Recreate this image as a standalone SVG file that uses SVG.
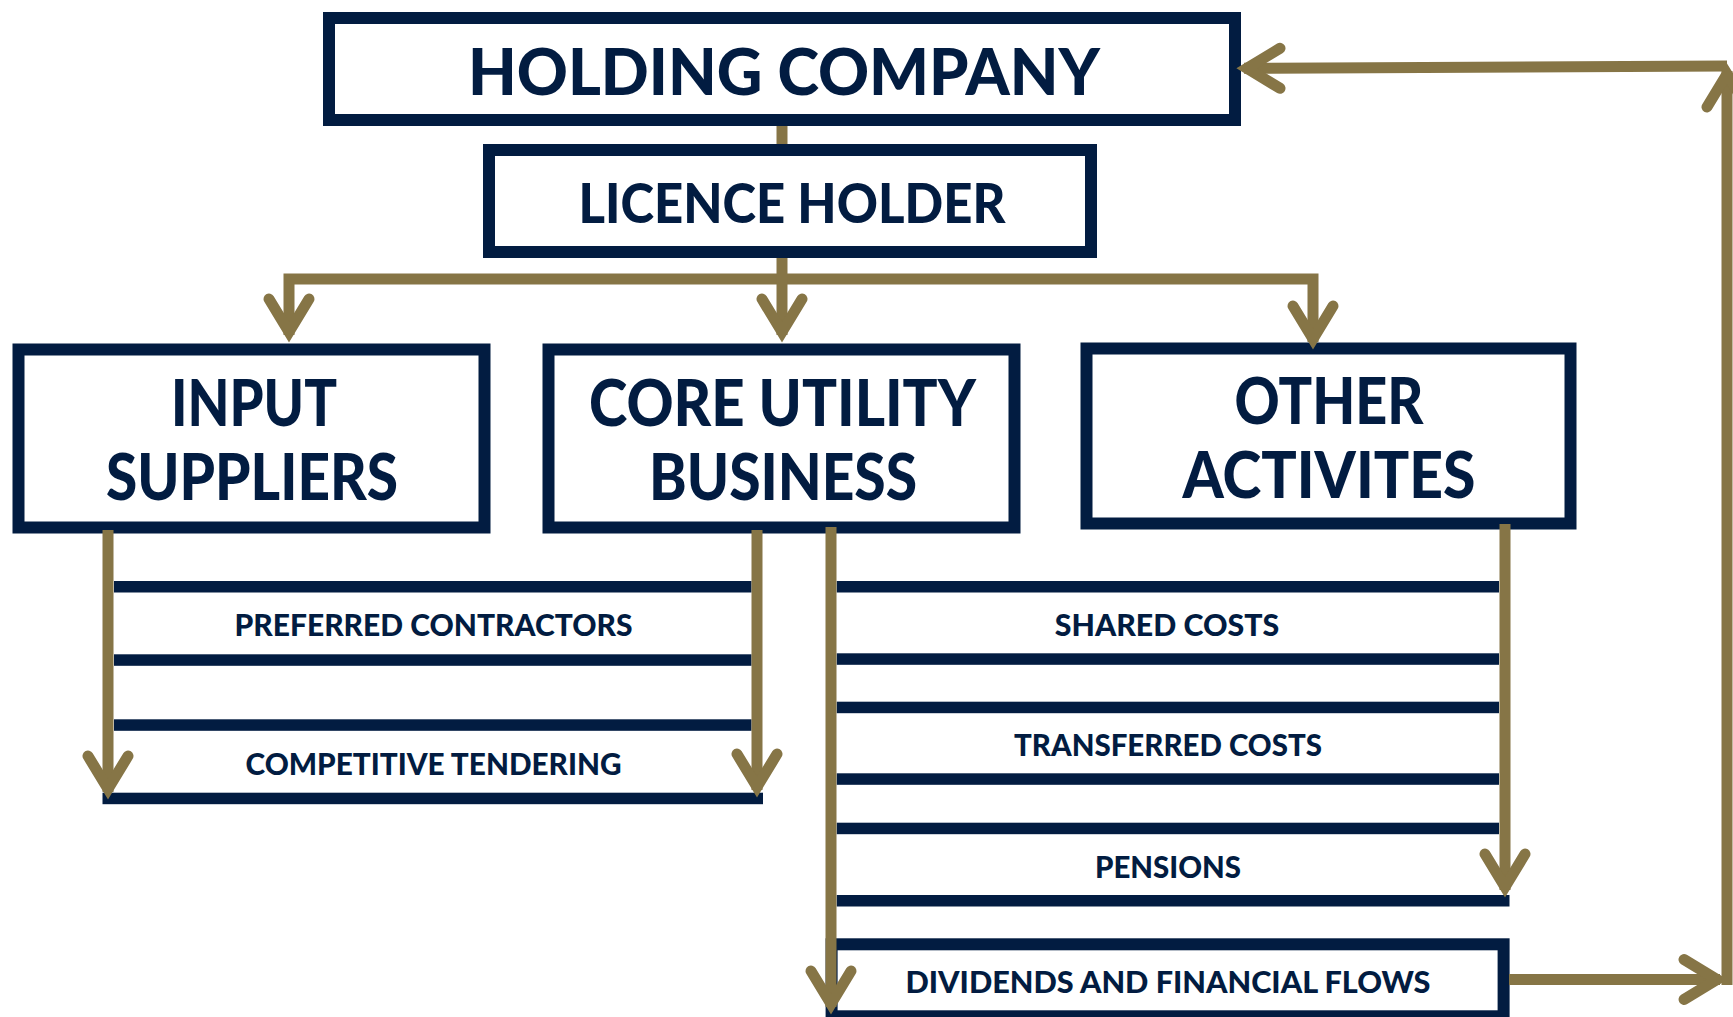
<svg xmlns="http://www.w3.org/2000/svg" xmlns:xlink="http://www.w3.org/1999/xlink" width="1733" height="1017" viewBox="0 0 1733 1017">
  <style>
    .box { fill: #ffffff; stroke: #021c41; stroke-width: 12; }
    .bar { fill: #021c41; }
    .lbl { font-family: "Lato", "Liberation Sans", sans-serif; font-weight: 900; fill: #021c41; text-anchor: middle; }
    .big { font-size: 64px; }
    .mid { font-size: 56px; }
    .small { font-size: 30px; }
    .flow { fill: none; stroke: #867546; stroke-width: 11; stroke-linejoin: miter; }
  </style>
  <defs>
    <!-- open chevron head, tip at the origin, pointing down -->
    <path id="chev" d="M -20 -44 L 0 -11 L 20 -44" fill="none" stroke="#867546" stroke-width="11" stroke-linecap="round" stroke-linejoin="miter" stroke-miterlimit="10"/>
  </defs>
  <rect width="1733" height="1017" fill="#ffffff"/>

  <g id="holding-company">
    <rect class="box" x="329" y="18" width="906" height="102"/>
    <text class="lbl big" x="784" y="95" textLength="632" lengthAdjust="spacingAndGlyphs">HOLDING COMPANY</text>
  </g>

  <g id="licence-holder">
    <rect class="box" x="489" y="150" width="602" height="102"/>
    <text class="lbl mid" x="792" y="222.5" textLength="427" lengthAdjust="spacingAndGlyphs">LICENCE HOLDER</text>
  </g>

  <g id="input-suppliers">
    <rect class="box" x="18.5" y="349.5" width="466" height="178"/>
    <text class="lbl big" x="254" y="425.5" textLength="166" lengthAdjust="spacingAndGlyphs">INPUT</text>
    <text class="lbl big" x="252" y="499.5" textLength="292" lengthAdjust="spacingAndGlyphs">SUPPLIERS</text>
  </g>

  <g id="core-utility-business">
    <rect class="box" x="548.5" y="349.5" width="466" height="178"/>
    <text class="lbl big" x="782.5" y="425.5" textLength="387" lengthAdjust="spacingAndGlyphs">CORE UTILITY</text>
    <text class="lbl big" x="783" y="499.5" textLength="268" lengthAdjust="spacingAndGlyphs">BUSINESS</text>
  </g>

  <g id="other-activites">
    <rect class="box" x="1086.5" y="348.5" width="484" height="175"/>
    <text class="lbl big" x="1329" y="423.5" textLength="189" lengthAdjust="spacingAndGlyphs">OTHER</text>
    <text class="lbl big" x="1329" y="498" textLength="293" lengthAdjust="spacingAndGlyphs">ACTIVITES</text>
  </g>

  <g id="preferred-contractors">
    <rect class="bar" x="114" y="581" width="637.5" height="11.5"/>
    <rect class="bar" x="114" y="654.3" width="637.5" height="11.5"/>
    <text class="lbl small" x="433.5" y="635.5" textLength="398" lengthAdjust="spacingAndGlyphs">PREFERRED CONTRACTORS</text>
  </g>

  <g id="competitive-tendering">
    <rect class="bar" x="114" y="719.3" width="637.5" height="11.5"/>
    <rect class="bar" x="102.5" y="792.7" width="660.5" height="11.5"/>
    <text class="lbl small" x="433.5" y="775" textLength="376" lengthAdjust="spacingAndGlyphs">COMPETITIVE TENDERING</text>
  </g>

  <g id="shared-costs">
    <rect class="bar" x="836.7" y="581" width="662.3" height="11.5"/>
    <rect class="bar" x="836.7" y="653.3" width="662.3" height="11.5"/>
    <text class="lbl small" x="1167" y="635.5" textLength="224.5" lengthAdjust="spacingAndGlyphs">SHARED COSTS</text>
  </g>

  <g id="transferred-costs">
    <rect class="bar" x="836.7" y="701.7" width="662.3" height="11.5"/>
    <rect class="bar" x="836.7" y="773.3" width="662.3" height="11.5"/>
    <text class="lbl small" x="1168" y="755.5" textLength="308" lengthAdjust="spacingAndGlyphs">TRANSFERRED COSTS</text>
  </g>

  <g id="pensions">
    <rect class="bar" x="836.7" y="822.7" width="662.3" height="11.5"/>
    <rect class="bar" x="836.7" y="895" width="672.8" height="11.5"/>
    <text class="lbl small" x="1168" y="877.5" textLength="146" lengthAdjust="spacingAndGlyphs">PENSIONS</text>
  </g>

  <g id="dividends-and-financial-flows">
    <rect class="box" x="831.6" y="944.3" width="672" height="72"/>
    <text class="lbl small" x="1168" y="992.5" textLength="525" lengthAdjust="spacingAndGlyphs">DIVIDENDS AND FINANCIAL FLOWS</text>
  </g>

  <g id="connectors">
    <!-- holding company to licence holder -->
    <path class="flow" d="M 782 126 V 144"/>
    <!-- licence holder fan-out -->
    <path class="flow" d="M 289 335 V 279 H 1313 V 342"/>
    <path class="flow" d="M 782 258 V 335"/>
    <use xlink:href="#chev" transform="translate(289,343)"/>
    <use xlink:href="#chev" transform="translate(782,343)"/>
    <use xlink:href="#chev" transform="translate(1313,350)"/>

    <!-- input suppliers / core utility flows -->
    <path class="flow" d="M 108 530 V 792"/>
    <path class="flow" d="M 757 530 V 790"/>
    <use xlink:href="#chev" transform="translate(108,800)"/>
    <use xlink:href="#chev" transform="translate(757,798)"/>

    <!-- core utility / other activites flows -->
    <path class="flow" d="M 831 527 V 1007"/>
    <path class="flow" d="M 1505 524 V 890"/>
    <use xlink:href="#chev" transform="translate(831,1015)"/>
    <use xlink:href="#chev" transform="translate(1505,898)"/>

    <!-- dividends loop back to holding company -->
    <path class="flow" d="M 1509 979.5 H 1720"/>
    <use xlink:href="#chev" transform="translate(1728,979.5) rotate(-90)"/>
    <path class="flow" d="M 1727 985 V 71"/>
    <use xlink:href="#chev" transform="translate(1727,63) rotate(180)"/>
    <path class="flow" d="M 1727 66 L 1244 68.3"/>
    <use xlink:href="#chev" transform="translate(1236,68.3) rotate(90)"/>
  </g>
</svg>
